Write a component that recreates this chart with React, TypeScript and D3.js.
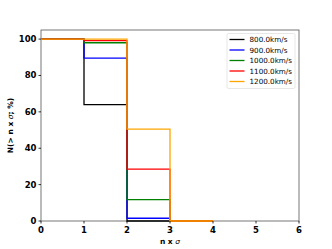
import React from "react";
import * as d3 from "d3";

const steps = [0, 1, 2, 3, 4];
const seriesNames = ["800.0km/s", "900.0km/s", "1000.0km/s", "1100.0km/s", "1200.0km/s"];
const seriesColors = ["#000000", "#0000ff", "#008000", "#ff0000", "#ffa500"];
const seriesValues = [
  [100, 64, 0, 0, 0],
  [100, 89.5, 1.5, 0, 0],
  [100, 98, 11.8, 0, 0],
  [100, 99.2, 28.5, 0, 0],
  [100, 100, 50.5, 0, 0],
];
const xTicks = [0, 1, 2, 3, 4, 5, 6];
const yTicks = [0, 20, 40, 60, 80, 100];

const width = 332;
const height = 249;
const margin = { left: 41, right: 33, top: 30, bottom: 28 };

const App = () => {
  const x = d3.scaleLinear().domain([0, 6]).range([margin.left, width - margin.right]);
  const y = d3.scaleLinear().domain([0, 105]).range([height - margin.bottom, margin.top]);
  const line = d3
    .line<number>()
    .x((d, i) => x(steps[i]))
    .y((d) => y(d))
    .curve(d3.curveStepAfter);

  const font = "DejaVu Sans, sans-serif";

  return (
    <svg width={width} height={height} style={{ position: "absolute", left: 0, top: 0, background: "#fff" }}>
      {/* frame */}
      <rect
        x={x(0)}
        y={y(105)}
        width={x(6) - x(0)}
        height={y(0) - y(105)}
        fill="none"
        stroke="#555"
        strokeWidth={0.8}
      />
      {seriesValues.map((vals, i) => (
        <path key={i} d={line(vals) || ""} fill="none" stroke={seriesColors[i]} strokeWidth={1.3} />
      ))}
      {xTicks.map((t) => (
        <g key={t}>
          <line x1={x(t)} x2={x(t)} y1={y(0)} y2={y(0) + 2.5} stroke="#000" strokeWidth={0.8} />
          <text x={x(t)} y={y(0) + 11.5} textAnchor="middle" fontFamily={font} fontSize={8.5} fontWeight="bold">
            {t}
          </text>
        </g>
      ))}
      {yTicks.map((t) => (
        <g key={t}>
          <line x1={x(0) - 2.5} x2={x(0)} y1={y(t)} y2={y(t)} stroke="#000" strokeWidth={0.8} />
          <text x={x(0) - 4.5} y={y(t) + 3} textAnchor="end" fontFamily={font} fontSize={8.5} fontWeight="bold">
            {t}
          </text>
        </g>
      ))}
      <text x={(x(0) + x(6)) / 2} y={height - 5.5} textAnchor="middle" fontFamily={font} fontSize={7.5} fontWeight="bold">
        n x <tspan fontStyle="italic" fontWeight="normal">σ</tspan>
      </text>
      <text
        transform={`translate(12.5, ${(y(0) + y(105)) / 2}) rotate(-90)`}
        textAnchor="middle"
        fontFamily={font}
        fontSize={7.5}
        fontWeight="bold"
      >
        N(&gt; n x <tspan fontStyle="italic" fontWeight="normal">σ</tspan>; %)
      </text>
      {/* legend */}
      <rect x={227} y={33.5} width={68} height={55} fill="#fff" stroke="#ddd" strokeWidth={0.7} rx={1.5} />
      {seriesNames.map((name, i) => (
        <g key={name}>
          <line x1={229.5} x2={244.5} y1={39.5 + i * 10.5} y2={39.5 + i * 10.5} stroke={seriesColors[i]} strokeWidth={1.3} />
          <text x={249.5} y={42 + i * 10.5} fontFamily={font} fontSize={7.2}>
            {name}
          </text>
        </g>
      ))}
    </svg>
  );
};

export default App;
